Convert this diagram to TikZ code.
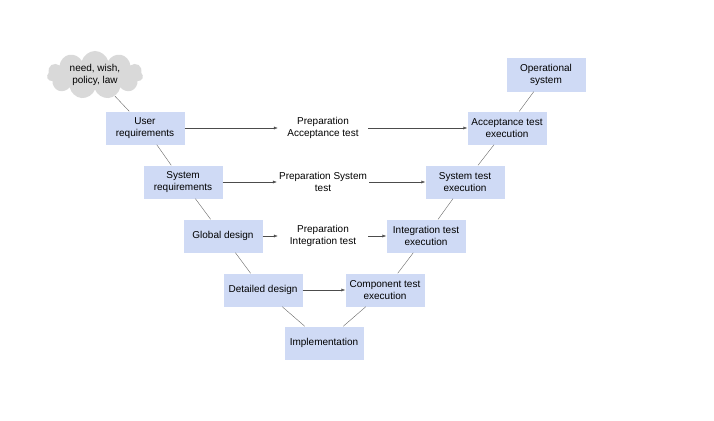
\documentclass[tikz,border=0pt]{standalone}
\usepackage{fontspec}
\setmainfont{Liberation Sans}
\usetikzlibrary{shapes.symbols,arrows.meta}
\begin{document}
\begin{tikzpicture}[x=1pt,y=-1pt,font=\fontsize{10}{12}\selectfont]
		
		\definecolor{boxblue}{RGB}{207,218,245}
		\definecolor{cloudgray}{RGB}{217,217,217}
		
		\tikzstyle{edge} = [draw,-,color=black!60]
		\tikzstyle{flow} = [draw,-{Latex[length=4pt,width=3pt]},color=black!70]
		\useasboundingbox (0,0) rectangle (714,420);
		
		\tikzset{phase/.style = {shape=rectangle,fill=boxblue,minimum width=79pt,minimum height=33pt,align=center,inner sep=1pt}}
		\node[cloud,fill=cloudgray,cloud puffs=11,aspect=2.2,minimum width=96pt,minimum height=48pt,align=center,inner sep=0pt] (need) at (95,75) {need, wish,\\policy, law};
		\node[phase] (ureq) at  (145,128) {User\\requirements};
		\node[phase] (sreq) at  (183,182) {System\\requirements};
		\node[phase] (gdes) at  (223,236) {Global design};
		\node[phase] (ddes) at  (263,290) {Detailed design};
		\node[phase] (impl) at  (324,343) {Implementation};
		\node[phase] (ctest) at  (385,290) {Component test\\execution};
		\node[phase] (itest) at  (426,236) {Integration test\\execution};
		\node[phase] (stest) at  (465,182) {System test\\execution};
		\node[phase] (atest) at  (507,128) {Acceptance test\\execution};
		\node[phase] (opsys) at  (546,75) {Operational\\system};
		
		\tikzset{prep/.style = {align=center,minimum width=90pt,inner sep=2pt}}
		\node[prep] (pacc) at  (323,128) {Preparation\\Acceptance test};
		\node[prep] (psys) at  (323,182) {Preparation System\\test};
		\node[prep] (pint) at  (323,236) {Preparation\\Integration test};
		
		\draw[edge] (need) to (ureq);
		\draw[edge] (ureq) to (sreq);
		\draw[edge] (sreq) to (gdes);
		\draw[edge] (gdes) to (ddes);
		\draw[edge] (ddes) to (impl);
		\draw[edge] (impl) to (ctest);
		\draw[edge] (ctest) to (itest);
		\draw[edge] (itest) to (stest);
		\draw[edge] (stest) to (atest);
		\draw[edge] (atest) to (opsys);
		
		\draw[flow] (ureq) to (pacc);
		\draw[flow] (pacc) to (atest);
		\draw[flow] (sreq) to (psys);
		\draw[flow] (psys) to (stest);
		\draw[flow] (gdes) to (pint);
		\draw[flow] (pint) to (itest);
		\draw[flow] (ddes) to (ctest);
		\end{tikzpicture}
\end{document}
